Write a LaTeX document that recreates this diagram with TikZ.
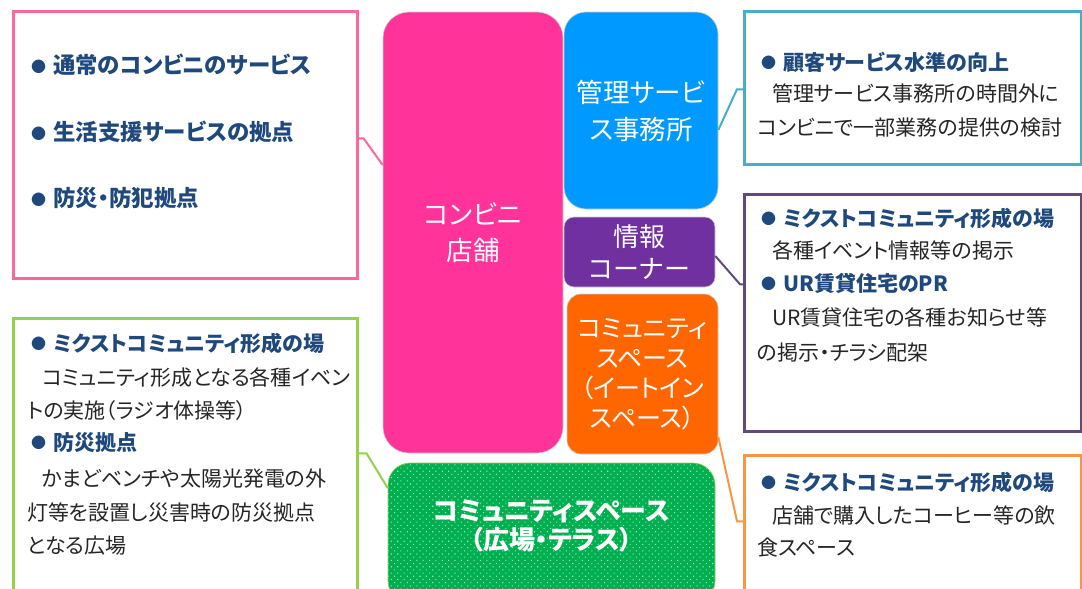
\documentclass[tikz,border=0pt]{standalone}
\usepackage{fontspec}
\newfontfamily\jp[RawFeature={+palt}]{Noto Sans CJK JP}
\usetikzlibrary{patterns.meta}
\definecolor{pinkb}{HTML}{FF6699}
\definecolor{pinkblk}{HTML}{FF3399}
\definecolor{blueblk}{HTML}{0099FF}
\definecolor{purpblk}{HTML}{7030A0}
\definecolor{orgblk}{HTML}{FF6600}
\definecolor{grnblk}{HTML}{00B050}
\definecolor{grnlight}{HTML}{9BE6B6}
\definecolor{cyanb}{HTML}{4BACC6}
\definecolor{purpb}{HTML}{604A7B}
\definecolor{orgb}{HTML}{F79646}
\definecolor{grnb}{HTML}{92D050}
\definecolor{headblue}{HTML}{1F497D}
\definecolor{bodyblack}{HTML}{262626}
\newcommand\mybul{\makebox[22pt][l]{\fontsize{15}{15}\selectfont\raisebox{1.5pt}{●}}}
\begin{document}
\begin{tikzpicture}[x=1pt,y=-1pt,
  hd/.style={anchor=west, inner sep=0pt, text height=18.5pt, text depth=2.5pt, font=\jp\bfseries\fontsize{21}{21}\selectfont, text=headblue},
  hdbig/.style={hd, text height=19.7pt, text depth=2.7pt, font=\jp\bfseries\fontsize{22.4}{22.4}\selectfont},
  bd/.style={anchor=west, inner sep=0pt, text height=18.5pt, text depth=2.5pt, font=\jp\fontsize{21}{21}\selectfont, text=bodyblack},
  infobox/.style={draw, line width=2.5pt, fill=white, inner sep=0pt, anchor=north west},
  blk/.style={inner sep=0pt, text=white, align=center, draw=white!80!black, line width=0.6pt},
  conn/.style={line width=2pt}
]
\useasboundingbox (0,0) rectangle (1082,589);
\clip (0,0) rectangle (1082,589);

% central blocks
\node[blk, fill=pinkblk, rounded corners=26pt, minimum width=180pt, minimum height=441pt,
  font=\jp\fontsize{26.5}{36}\selectfont] (conv) at (473,232.5) {コンビニ\\店舗};
\node[blk, fill=blueblk, rounded corners=22pt, minimum width=154pt, minimum height=197pt,
  font=\jp\fontsize{26.5}{37}\selectfont] (kanri) at (641,110.5) {管理サービ\\ス事務所};
\node[blk, fill=purpblk, rounded corners=10pt, minimum width=151pt, minimum height=70pt,
  font=\jp\fontsize{26}{32}\selectfont] (joho) at (639.5,252) {情報\\コーナー};
\node[blk, fill=orgblk, rounded corners=14pt, minimum width=151pt, minimum height=160pt,
  font=\jp\fontsize{25}{30}\selectfont] (eat) at (642.5,374) {コミュニティ\\スペース\\（イートイン\\スペース）};
\node[blk, fill=grnblk, draw=grnb, rounded corners=22pt, minimum width=327pt, minimum height=140pt,
  postaction={pattern={Dots[distance=4.5pt, radius=0.75pt, angle=45]}, pattern color=grnlight}] (plaza) at (551.5,533) {};
\node[text=white, align=center, inner sep=0pt, font=\jp\bfseries\fontsize{26}{29}\selectfont]
  (plazatxt) at (551.5,526) {コミュニティスペース\\（広場・テラス）};

% info boxes
\node[infobox, draw=pinkb, minimum width=344pt, minimum height=267pt] (lpink) at (12,10) {};
\node[infobox, draw=grnb, minimum width=344pt, minimum height=290pt] (lgreen) at (12,317) {};
\node[infobox, draw=cyanb, minimum width=337pt, minimum height=153pt] (rcyan) at (743,10) {};
\node[infobox, draw=purpb, minimum width=337pt, minimum height=237pt] (rpurp) at (743,193) {};
\node[infobox, draw=orgb, minimum width=337pt, minimum height=150pt] (rorg) at (743,454) {};

% texts: left pink box
\node[hdbig] (p1) at (31,65) {\mybul 通常のコンビニのサービス};
\node[hdbig] (p2) at (31,132) {\mybul 生活支援サービスの拠点};
\node[hdbig] (p3) at (31,198) {\mybul 防災・防犯拠点};

% left green box
\node[hd] (g1) at (31,343) {\mybul ミクストコミュニティ形成の場};
\node[bd] (g2) at (42,377) {コミュニティ形成となる各種イベン};
\node[bd] (g3) at (27,410) {トの実施（ラジオ体操等）};
\node[hd] (g4) at (31,442) {\mybul 防災拠点};
\node[bd] (g5) at (42,478) {かまどベンチや太陽光発電の外};
\node[bd] (g6) at (27,512) {灯等を設置し災害時の防災拠点};
\node[bd] (g7) at (27,545) {となる広場};

% right cyan box
\node[hd] (c1) at (761,62) {\mybul 顧客サービス水準の向上};
\node[bd] (c2) at (772,93) {管理サービス事務所の時間外に};
\node[bd] (c3) at (757,127) {コンビニで一部業務の提供の検討};

% right purple box
\node[hd] (u1) at (761,218) {\mybul ミクストコミュニティ形成の場};
\node[bd] (u2) at (772,250) {各種イベント情報等の掲示};
\node[hd] (u3) at (761,283) {\mybul UR賃貸住宅のPR};
\node[bd] (u4) at (772,317) {UR賃貸住宅の各種お知らせ等};
\node[bd] (u5) at (757,352) {の掲示・チラシ配架};

% right orange box
\node[hd] (o1) at (761,482) {\mybul ミクストコミュニティ形成の場};
\node[bd] (o2) at (772,515) {店舗で購入したコーヒー等の飲};
\node[bd] (o3) at (757,547) {食スペース};

% connectors
\draw[conn, draw=pinkb] ([yshift=6.5pt]lpink.east) -- ++(5,0) -- ([yshift=67.5pt]conv.west);
\draw[conn, draw=cyanb] ([yshift=-19.5pt]kanri.east) -- ([xshift=-6pt,yshift=-1.5pt]rcyan.west) -- ([yshift=-1.5pt]rcyan.west);
\draw[conn, draw=purpb] ([yshift=-4pt]joho.east) -- ([xshift=-3pt,yshift=28.5pt]rpurp.west) -- ([yshift=28.5pt]rpurp.west);
\draw[conn, draw=orgb] ([yshift=-63pt]eat.east) -- ([xshift=-6pt,yshift=9pt]rorg.west) -- ([yshift=9pt]rorg.west);
\draw[conn, draw=grnb] ([yshift=10pt]lgreen.east) -- ++(8,0) -- ([yshift=45pt]plaza.west);
\end{tikzpicture}
\end{document}
